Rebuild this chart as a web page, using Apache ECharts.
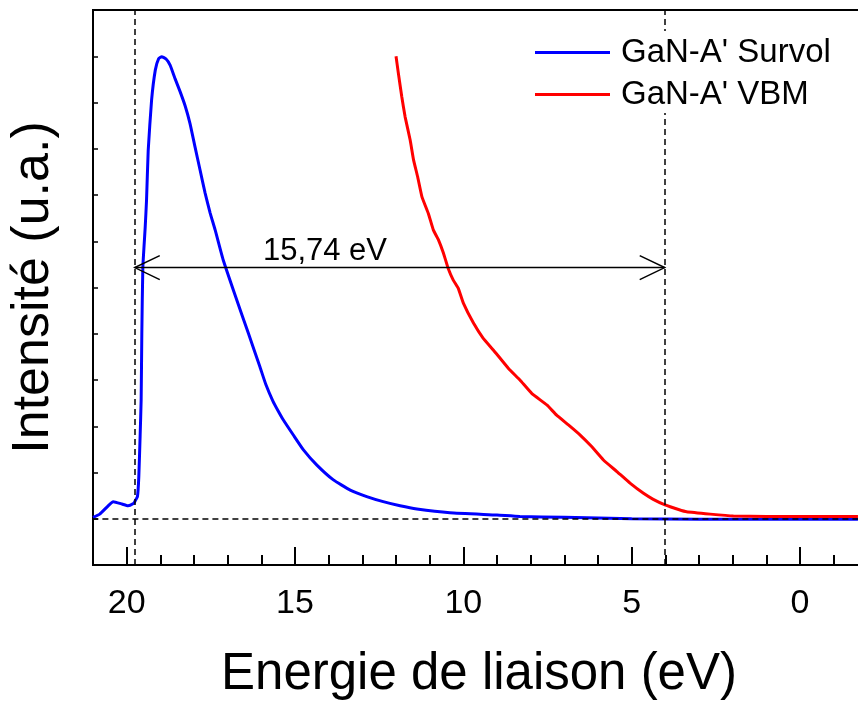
<!DOCTYPE html>
<html>
<head>
<meta charset="utf-8">
<script src="https://cdn.jsdelivr.net/npm/echarts@6/dist/echarts.min.js"></script>
<style>
html,body{margin:0;padding:0;background:#fff;}
#chart{width:858px;height:701px;}
</style>
</head>
<body>
<div id="chart"></div>
<script>
// Binding energy (eV) / intensity (a.u.)
const survolEnergy = [21.0, 20.8, 20.55, 20.4, 20.14, 19.96, 19.8, 19.76, 19.68, 19.64, 19.6, 19.57, 19.55, 19.52, 19.45, 19.41, 19.36, 19.26, 19.15, 19.05, 18.96, 18.83, 18.71, 18.56, 18.41, 18.26, 18.12, 17.97, 17.82, 17.67, 17.52, 17.37, 17.13, 16.73, 16.39, 16.04, 15.86, 15.66, 15.50, 15.35, 15.05, 14.75, 14.35, 13.86, 13.36, 12.87, 12.38, 11.88, 11.38, 10.4, 9.0, 8.32, 7.0, 6.33, 5.0, 3.0, 1.0, -1.72];
const survolIntensity = [1.03, 1.10, 1.28, 1.37, 1.32, 1.28, 1.33, 1.37, 1.48, 1.9, 2.8, 3.57, 5.0, 6.43, 7.3, 7.89, 8.97, 10.05, 10.7, 10.95, 10.99, 10.94, 10.81, 10.51, 10.23, 9.92, 9.55, 9.04, 8.54, 8.04, 7.61, 7.24, 6.59, 5.73, 5.02, 4.28, 3.89, 3.55, 3.33, 3.14, 2.81, 2.49, 2.16, 1.84, 1.62, 1.48, 1.37, 1.28, 1.21, 1.13, 1.08, 1.05, 1.03, 1.02, 1.0, 0.99, 0.99, 0.99];

const vbmEnergy = [12.0, 11.93, 11.83, 11.73, 11.58, 11.48, 11.36, 11.23, 11.04, 10.89, 10.74, 10.59, 10.45, 10.30, 10.15, 10.0, 9.70, 9.41, 9.11, 8.66, 8.32, 7.97, 7.52, 7.23, 6.88, 6.53, 6.19, 5.84, 5.44, 5.05, 4.65, 4.36, 4.01, 3.61, 3.37, 2.67, 1.98, 0.99, -1.72];
const vbmIntensity = [11.0, 10.63, 10.13, 9.69, 9.19, 8.76, 8.40, 7.96, 7.60, 7.24, 7.03, 6.74, 6.41, 6.16, 5.98, 5.66, 5.23, 4.90, 4.65, 4.25, 4.0, 3.71, 3.46, 3.24, 3.03, 2.81, 2.56, 2.27, 2.02, 1.77, 1.55, 1.42, 1.30, 1.20, 1.15, 1.10, 1.06, 1.05, 1.05];

const seriesNames = ["GaN-A' Survol", "GaN-A' VBM"];
const guideEnergies = [19.76, 4.02];   // vertical dashed lines
const baselineLevel = [1.0];           // horizontal dashed line
const arrowLevel = 6.43;
const gapLabel = '15,74 eV';
const gapLabelPos = [14.11, 6.77];
const xTickLabels = ['20', '15', '10', '5', '0'];

const FONT = "'Liberation Sans', Arial, Helvetica, sans-serif";

const zip = (a, b) => a.map((v, i) => [v, b[i]]);

const chart = echarts.init(document.getElementById('chart'), null, {renderer: 'canvas'});

const option = {
  backgroundColor: '#fff',
  animation: false,
  textStyle: {fontFamily: FONT},
  grid: {
    left: 93, top: 10, width: 875.4, bottom: 136,
    outerBoundsMode: 'none', containLabel: false,
    show: true, borderColor: '#000', borderWidth: 2, backgroundColor: 'transparent'
  },
  legend: {
    orient: 'vertical',
    left: 530, top: 31,
    padding: [5, 8, 2, 5],
    backgroundColor: '#fff',
    itemWidth: 75, itemHeight: 3, itemGap: 9,
    icon: 'rect',
    data: seriesNames,
    textStyle: {fontSize: 33, color: '#000', fontFamily: FONT, padding: [0, 0, 0, 6]},
    z: 10
  },
  xAxis: [{
    type: 'value', inverse: true, min: -5, max: 21, interval: 5,
    position: 'bottom',
    axisLine: {show: true, onZero: false, lineStyle: {color: '#000', width: 2}},
    axisTick: {show: true, inside: true, length: 18, lineStyle: {color: '#000', width: 2}},
    axisLabel: {
      show: true, fontSize: 34, color: '#000', margin: 22, fontFamily: FONT,
      showMaxLabel: false,
      formatter: v => xTickLabels.includes(String(v)) ? String(v) : ''
    },
    splitLine: {show: false}
  }, {
    type: 'value', inverse: true, min: -5, max: 21, interval: 1,
    position: 'bottom',
    axisLine: {show: false, onZero: false},
    axisTick: {show: true, inside: true, length: 10, lineStyle: {color: '#000', width: 2}},
    axisLabel: {show: false},
    splitLine: {show: false}
  }],
  yAxis: {
    type: 'value', min: 0, max: 12, interval: 1,
    name: 'Intensité (u.a.)', nameLocation: 'middle', nameRotate: 90, nameGap: 33,
    nameTextStyle: {fontSize: 52, color: '#000', fontFamily: FONT},
    axisLine: {show: true, onZero: false, lineStyle: {color: '#000', width: 2}},
    axisTick: {show: true, inside: true, length: 5, lineStyle: {color: '#000', width: 1.5}},
    axisLabel: {show: false},
    splitLine: {show: false}
  },
  graphic: [{
    type: 'text',
    style: {
      text: 'Energie de liaison (eV)', font: '51px ' + FONT, fill: '#000',
      x: 479, y: 675, align: 'center', verticalAlign: 'middle'
    }
  }],
  series: [{
    name: seriesNames[0], type: 'line', showSymbol: false, smooth: 0.15,
    data: zip(survolEnergy, survolIntensity),
    color: '#0000ff',
    lineStyle: {color: '#0000ff', width: 3},
    z: 3,
    markLine: {
      silent: true, symbol: ['none', 'none'], animation: false,
      label: {show: false},
      lineStyle: {color: '#000', width: 1.5, type: [6, 4]},
      data: guideEnergies.map(e => ({xAxis: e})).concat(baselineLevel.map(v => ({yAxis: v})))
    }
  }, {
    name: seriesNames[1], type: 'line', showSymbol: false, smooth: 0.1,
    data: zip(vbmEnergy, vbmIntensity),
    color: '#ff0000',
    lineStyle: {color: '#ff0000', width: 3},
    z: 4
  }, {
    name: 'arrow', type: 'custom', silent: true, z: 5,
    data: [[guideEnergies[0], guideEnergies[1], arrowLevel, gapLabelPos[0], gapLabelPos[1]]],
    encode: {x: [0, 1, 3], y: [2, 4]},
    renderItem: function (params, api) {
      const a = api.coord([api.value(0), api.value(2)]);
      const b = api.coord([api.value(1), api.value(2)]);
      const t = api.coord([api.value(3), api.value(4)]);
      const st = {stroke: '#000', lineWidth: 1.5, fill: 'none'};
      return {
        type: 'group',
        children: [
          {type: 'line', shape: {x1: a[0], y1: a[1], x2: b[0], y2: b[1]}, style: st},
          {type: 'polyline', shape: {points: [[a[0] + 25, a[1] - 12], a, [a[0] + 25, a[1] + 12]]}, style: st},
          {type: 'polyline', shape: {points: [[b[0] - 25, b[1] - 12], b, [b[0] - 25, b[1] + 12]]}, style: st},
          {type: 'text', style: {text: gapLabel, x: t[0], y: t[1], align: 'center', verticalAlign: 'middle', font: '31px ' + FONT, fill: '#000'}}
        ]
      };
    }
  }]
};

chart.setOption(option);
</script>
</body>
</html>
